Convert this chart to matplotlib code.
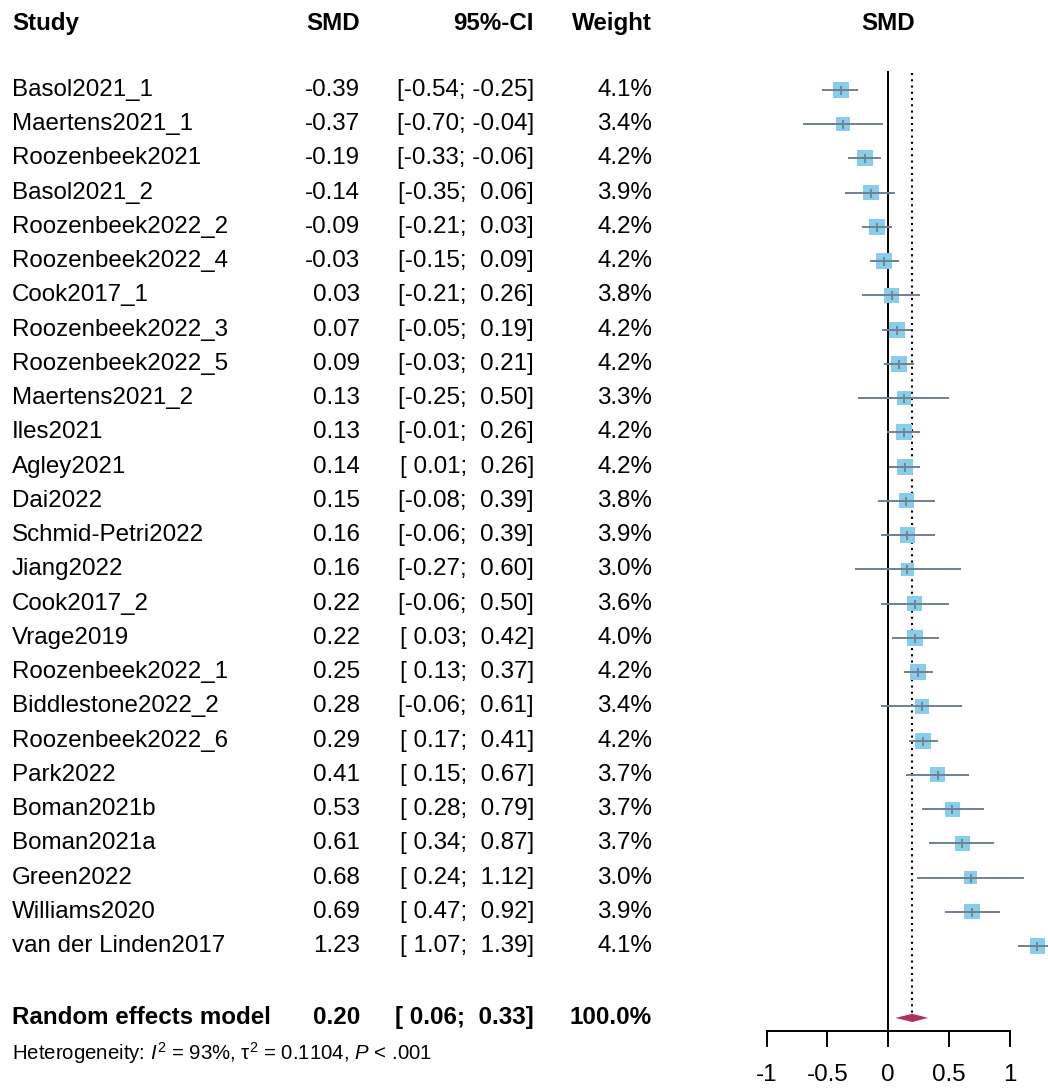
import numpy as np
import matplotlib.pyplot as plt
from matplotlib.transforms import blended_transform_factory

# Study data
studies = ["Basol2021_1", "Maertens2021_1", "Roozenbeek2021", "Basol2021_2",
           "Roozenbeek2022_2", "Roozenbeek2022_4", "Cook2017_1", "Roozenbeek2022_3",
           "Roozenbeek2022_5", "Maertens2021_2", "Iles2021", "Agley2021", "Dai2022",
           "Schmid-Petri2022", "Jiang2022", "Cook2017_2", "Vrage2019", "Roozenbeek2022_1",
           "Biddlestone2022_2", "Roozenbeek2022_6", "Park2022", "Boman2021b",
           "Boman2021a", "Green2022", "Williams2020", "van der Linden2017"]
smd = [-0.39, -0.37, -0.19, -0.14, -0.09, -0.03, 0.03, 0.07, 0.09, 0.13, 0.13, 0.14,
       0.15, 0.16, 0.16, 0.22, 0.22, 0.25, 0.28, 0.29, 0.41, 0.53, 0.61, 0.68, 0.69, 1.23]
ci_low = [-0.54, -0.70, -0.33, -0.35, -0.21, -0.15, -0.21, -0.05, -0.03, -0.25, -0.01,
          0.01, -0.08, -0.06, -0.27, -0.06, 0.03, 0.13, -0.06, 0.17, 0.15, 0.28, 0.34,
          0.24, 0.47, 1.07]
ci_high = [-0.25, -0.04, -0.06, 0.06, 0.03, 0.09, 0.26, 0.19, 0.21, 0.50, 0.26, 0.26,
           0.39, 0.39, 0.60, 0.50, 0.42, 0.37, 0.61, 0.41, 0.67, 0.79, 0.87, 1.12, 0.92, 1.39]
weight = [4.1, 3.4, 4.2, 3.9, 4.2, 4.2, 3.8, 4.2, 4.2, 3.3, 4.2, 4.2, 3.8, 3.9, 3.0,
          3.6, 4.0, 4.2, 3.4, 4.2, 3.7, 3.7, 3.7, 3.0, 3.9, 4.1]

# Random effects model
re_label = "Random effects model"
re_smd = 0.20
re_low = 0.06
re_high = 0.33
re_weight = 100.0
het_text = (r"Heterogeneity: $\mathit{I}^2$ = 93%, $\mathrm{\tau}^2$ = 0.1104, "
            r"$\mathit{P}$ < .001")

xticks = [-1, -0.5, 0, 0.5, 1]
xtick_labels = ["-1", "-0.5", "0", "0.5", "1"]

plt.rcParams['font.family'] = ['Liberation Sans', 'DejaVu Sans']
plt.rcParams['mathtext.fontset'] = 'custom'
plt.rcParams['mathtext.rm'] = 'Liberation Sans'
plt.rcParams['mathtext.it'] = 'Liberation Sans:italic'

W, H = 1048, 1088
fig = plt.figure(figsize=(W / 100, H / 100), dpi=100)
ax = fig.add_axes([0, 0, 1, 1])
ax.axis('off')

# pixel layout: x=0 at 888px, 121.5 px per unit; row 0 at 90px, 34.24 px per row
px_unit = 121.5
x0_px = 888
row_px = 34.24
row0_px = 90
ax.set_xlim(-x0_px / px_unit, (W - x0_px) / px_unit)
ax.set_ylim((H - row0_px) / row_px, -row0_px / row_px)

n = len(studies)
rows = np.arange(n)
re_row = 27.1
het_row = 28.12
head_row = -1.95
axis_row = 27.48

trans = blended_transform_factory(ax.transAxes, ax.transData)
fs = 17.4

col_study = 12 / W
col_smd = 360 / W
col_ci = 534 / W
col_w = 652 / W

# header
ax.text(col_study, head_row, "Study", transform=trans, ha='left', va='center',
        fontsize=fs, fontweight='bold')
ax.text(col_smd, head_row, "SMD", transform=trans, ha='right', va='center',
        fontsize=fs, fontweight='bold')
ax.text(col_ci, head_row, "95%-CI", transform=trans, ha='right', va='center',
        fontsize=fs, fontweight='bold')
ax.text(col_w, head_row, "Weight", transform=trans, ha='right', va='center',
        fontsize=fs, fontweight='bold')
ax.text(0, head_row, "SMD", ha='center', va='center', fontsize=fs, fontweight='bold')

# study rows
for i in range(n):
    ax.text(col_study, rows[i], studies[i], transform=trans, ha='left', va='center', fontsize=fs)
    ax.text(col_smd, rows[i], f"{smd[i]:.2f}", transform=trans, ha='right', va='center', fontsize=fs)
    ax.text(col_ci, rows[i], f"[{ci_low[i]:5.2f}; {ci_high[i]:5.2f}]", transform=trans,
            ha='right', va='center', fontsize=fs)
    ax.text(col_w, rows[i], f"{weight[i]:.1f}%", transform=trans, ha='right', va='center', fontsize=fs)

# summary row
ax.text(col_study, re_row, re_label, transform=trans, ha='left', va='center',
        fontsize=fs, fontweight='bold')
ax.text(col_smd, re_row, f"{re_smd:.2f}", transform=trans, ha='right', va='center',
        fontsize=fs, fontweight='bold')
ax.text(col_ci, re_row, f"[{re_low:5.2f}; {re_high:5.2f}]", transform=trans, ha='right',
        va='center', fontsize=fs, fontweight='bold')
ax.text(col_w, re_row, f"{re_weight:.1f}%", transform=trans, ha='right', va='center',
        fontsize=fs, fontweight='bold')
ax.text(col_study, het_row, het_text, transform=trans, ha='left', va='center', fontsize=14.7)

# reference lines
ax.plot([0, 0], [-0.53, axis_row], color='black', lw=1.4, zorder=1)
ax.plot([re_smd, re_smd], [-0.5, re_row - 0.1], color='black', lw=1.5,
        linestyle=(0, (1, 2)), zorder=1)

# squares, CI lines, inner ticks
side_px = 16 * np.sqrt(np.array(weight) / 4.2)
ax.scatter(smd, rows, marker='s', s=(side_px * 0.72) ** 2, color='#87CEEB',
           edgecolors='none', zorder=2)
ax.hlines(rows, ci_low, ci_high, color='#708090', lw=1.4, zorder=3)
ax.scatter(smd, rows, marker='|', s=(9 * 0.72) ** 2, color='#708090', linewidths=1.3, zorder=4)

# diamond
dh = 0.12
ax.fill([re_low, re_smd, re_high, re_smd], [re_row, re_row - dh, re_row, re_row + dh],
        color='#B03060', lw=0, zorder=3)

# x axis
tick_len = 15 / row_px
ax.plot([xticks[0], xticks[-1]], [axis_row, axis_row], color='black', lw=1.4)
for t, lab in zip(xticks, xtick_labels):
    ax.plot([t, t], [axis_row, axis_row + tick_len], color='black', lw=1.4)
    ax.text(t, 28.77, lab, ha='center', va='center', fontsize=fs)

fig.savefig("out.png", dpi=100)
